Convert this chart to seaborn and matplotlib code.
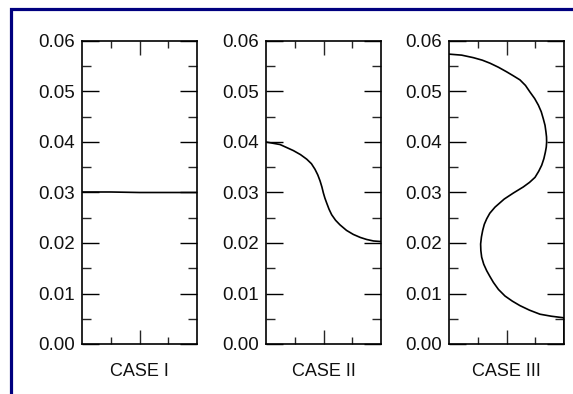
import matplotlib
matplotlib.use('Agg')
import matplotlib.pyplot as plt
import seaborn as sns
from matplotlib.patches import Rectangle
from matplotlib.ticker import MultipleLocator, FixedLocator, NullFormatter

# --- data (x normalised to the panel width) ---
case_labels = ['CASE I', 'CASE II', 'CASE III']

case1_x = [0.0, 0.25, 0.5, 0.75, 1.0]
case1_y = [0.0301, 0.0301, 0.0300, 0.0300, 0.0300]

case2_x = [0.0, 0.122, 0.238, 0.300, 0.354, 0.395, 0.426, 0.450, 0.470,
           0.486, 0.499, 0.512, 0.528, 0.548, 0.571, 0.605, 0.643, 0.700,
           0.759, 0.820, 0.875, 0.935, 0.991, 1.0]
case2_y = [0.0400, 0.0395, 0.0383, 0.0375, 0.0366, 0.0357, 0.0346, 0.0335,
           0.0323, 0.0311, 0.0299, 0.0289, 0.0279, 0.0267, 0.0256, 0.0245,
           0.0236, 0.0225, 0.0217, 0.0211, 0.0207, 0.0204, 0.0203, 0.0203]

case3_x = [0.0, 0.110, 0.212, 0.290, 0.357, 0.430, 0.501, 0.560, 0.617,
           0.665, 0.704, 0.745, 0.777, 0.802, 0.820, 0.835, 0.843, 0.848,
           0.849, 0.846, 0.838, 0.825, 0.806, 0.780, 0.748, 0.700, 0.646,
           0.560, 0.480, 0.400, 0.355, 0.328, 0.307, 0.293, 0.282, 0.275,
           0.277, 0.284, 0.302, 0.328, 0.355, 0.386, 0.430, 0.487, 0.550,
           0.617, 0.700, 0.791, 0.890, 0.994, 1.0, 1.0]
case3_y = [0.0574, 0.0572, 0.0567, 0.0562, 0.0556, 0.0548, 0.0539, 0.0531,
           0.0523, 0.0512, 0.0499, 0.0486, 0.0473, 0.0460, 0.0446, 0.0433,
           0.0420, 0.0410, 0.0400, 0.0390, 0.0380, 0.0367, 0.0354, 0.0342,
           0.0330, 0.0320, 0.0311, 0.0299, 0.0287, 0.0271, 0.0259, 0.0248,
           0.0237, 0.0225, 0.0212, 0.0198, 0.0185, 0.0172, 0.0158, 0.0145,
           0.0134, 0.0122, 0.0108, 0.0095, 0.0085, 0.0076, 0.0067, 0.0059,
           0.0055, 0.0052, 0.0052, 0.0]

cases = [(case1_x, case1_y), (case2_x, case2_y), (case3_x, case3_y)]

sns.set_style("ticks")
plt.rcParams['font.family'] = ['Liberation Sans', 'DejaVu Sans']

fig = plt.figure(figsize=(5.73, 3.94), dpi=100)
fig.patch.set_facecolor('white')

# navy frame (only left and top edges visible)
fig.add_artist(Rectangle((11 / 573, -0.2), 1.5, 1.2 - 9 / 394,
                         transform=fig.transFigure, fill=False,
                         edgecolor='#00007f', linewidth=2.3, clip_on=False))

lefts = [82 / 573, 266 / 573, 449 / 573]
bottom = 1 - 344 / 394
height = (344 - 41) / 394
width = 115 / 573

for left, (xs, ys), label in zip(lefts, cases, case_labels):
    ax = fig.add_axes([left, bottom, width, height])
    sns.lineplot(x=xs, y=ys, sort=False, estimator=None, color='black',
                 linewidth=1.2, ax=ax)
    ax.set_xlim(0, 1)
    ax.set_ylim(0, 0.06)

    ax.yaxis.set_major_locator(MultipleLocator(0.01))
    ax.yaxis.set_minor_locator(MultipleLocator(0.005))
    ax.yaxis.set_major_formatter(plt.FuncFormatter(lambda v, p: f'{v:.2f}'))
    ax.xaxis.set_major_locator(FixedLocator([0.5]))
    ax.xaxis.set_minor_locator(FixedLocator([0.25, 0.75]))
    ax.xaxis.set_major_formatter(NullFormatter())

    ax.tick_params(axis='y', which='major', direction='in', left=True,
                   right=True, length=12, width=1, labelsize=13.5, pad=5,
                   colors='black', labelcolor='#111111')
    ax.tick_params(axis='y', which='minor', direction='in', left=True,
                   right=True, length=6.5, width=1)
    ax.tick_params(axis='x', which='major', direction='in', top=True,
                   bottom=True, length=10, width=1)
    ax.tick_params(axis='x', which='minor', direction='in', top=True,
                   bottom=True, length=5, width=1)

    for spine in ax.spines.values():
        spine.set_visible(True)
        spine.set_linewidth(1.2)
        spine.set_color('black')

    ax.set_xlabel(label, fontsize=13, labelpad=10, color='#111111')
    ax.set_ylabel('')

fig.savefig('out.png', dpi=100, facecolor='white')
